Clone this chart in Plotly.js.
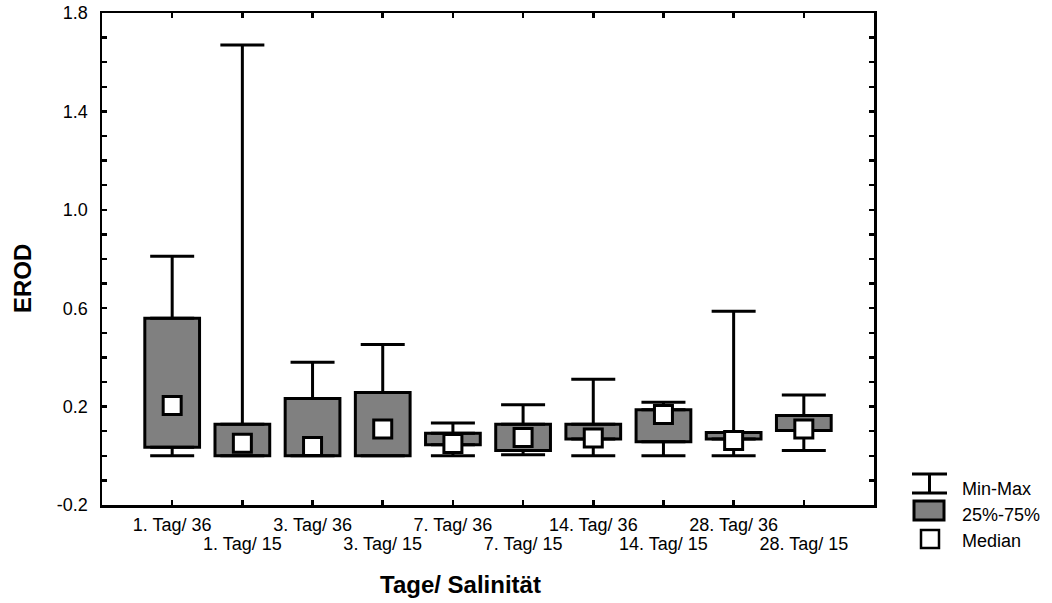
<!DOCTYPE html>
<html>
<head>
<meta charset="utf-8">
<script src="https://cdn.plot.ly/plotly-3.0.1.min.js"></script>
<style>html,body{margin:0;padding:0;background:#fff}#chart{width:1052px;height:603px}</style>
</head>
<body>
<div id="chart"></div>
<script>
// ---- Data ----
const categories = ["1. Tag/ 36","1. Tag/ 15","3. Tag/ 36","3. Tag/ 15","7. Tag/ 36","7. Tag/ 15","14. Tag/ 36","14. Tag/ 15","28. Tag/ 36","28. Tag/ 15"];
const minValues    = [0.000, 0.000, 0.000, 0.000, 0.000, 0.004, 0.000, 0.000, 0.000, 0.022];
const q1Values     = [0.035, 0.000, 0.000, 0.000, 0.045, 0.022, 0.068, 0.057, 0.068, 0.103];
const medianValues = [0.204, 0.051, 0.038, 0.109, 0.050, 0.074, 0.072, 0.168, 0.062, 0.109];
const q3Values     = [0.559, 0.128, 0.233, 0.257, 0.092, 0.128, 0.128, 0.187, 0.095, 0.164];
const maxValues    = [0.811, 1.670, 0.380, 0.452, 0.133, 0.208, 0.311, 0.218, 0.588, 0.247];
const yTickLabels  = ["-0.2","0.2","0.6","1.0","1.4","1.8"];
const legendLabels = ["Min-Max","25%-75%","Median"];
const xTitle = "Tage/ Salinität";
const yTitle = "EROD";

// ---- Build ----
const FONT = "Liberation Sans, Arial, Helvetica, sans-serif";
const TICK_SIZE = 18;
const idx = categories.map((_, i) => i);
const oddIdx = idx.filter(i => i % 2 === 1);
// row 1 (bottom axis): even categories; row 2 (overlay axis): odd categories
const row1Text = idx.map(i => (i % 2 === 0 ? categories[i] : ""));
const row2Text = oddIdx.map(i => categories[i]);

// y ticks every 0.1, labels every 0.4
const yTickVals = [], yTickText = [];
for (let k = 0; k <= 20; k++) {
  const v = Math.round((-0.2 + k * 0.1) * 10) / 10;
  yTickVals.push(v);
  yTickText.push(k % 4 === 0 ? yTickLabels[k / 4] : "");
}

const boxTrace = {
  type: "bar", x: idx,
  y: q3Values.map((q, i) => q - q1Values[i]),
  base: q1Values,
  width: 0.78,
  marker: {color: "#808080", line: {color: "#000", width: 3}},
  hoverinfo: "skip", showlegend: false
};
const upperWhisker = {
  type: "scatter", mode: "markers", x: idx, y: q3Values,
  marker: {size: 1, color: "rgba(0,0,0,0)"},
  error_y: {type: "data", symmetric: false,
    array: maxValues.map((m, i) => m - q3Values[i]),
    arrayminus: idx.map(() => 0),
    color: "#000", thickness: 3, width: 22},
  hoverinfo: "skip", showlegend: false
};
const lowerWhisker = {
  type: "scatter", mode: "markers", x: idx, y: q1Values,
  marker: {size: 1, color: "rgba(0,0,0,0)"},
  error_y: {type: "data", symmetric: false,
    array: idx.map(() => 0),
    arrayminus: q1Values.map((q, i) => q - minValues[i]),
    color: "#000", thickness: 3, width: 22},
  hoverinfo: "skip", showlegend: false
};
const medianTrace = {
  type: "scatter", mode: "markers", x: idx, y: medianValues,
  marker: {symbol: "square", size: 18, color: "#fff", line: {color: "#000", width: 3}},
  hoverinfo: "skip", showlegend: false
};
// invisible trace so the second label row axis is drawn
const row2Anchor = {
  type: "scatter", mode: "markers", x: oddIdx, y: oddIdx.map(() => null),
  xaxis: "x2", yaxis: "y", hoverinfo: "skip", showlegend: false
};

// pixel -> paper helpers for legend placement
const L = 102, R = 874, T = 13, B = 505;
const px = v => (v - L) / (R - L);
const py = v => (B - v) / (B - T);

const shapes = [
  {type: "line", xref: "paper", yref: "paper", x0: px(912), x1: px(947), y0: py(474), y1: py(474), line: {color: "#000", width: 3}},
  {type: "line", xref: "paper", yref: "paper", x0: px(929.5), x1: px(929.5), y0: py(474), y1: py(493), line: {color: "#000", width: 3}},
  {type: "line", xref: "paper", yref: "paper", x0: px(912), x1: px(947), y0: py(493), y1: py(493), line: {color: "#000", width: 3}},
  {type: "rect", xref: "paper", yref: "paper", x0: px(914), x1: px(944), y0: py(501), y1: py(520), fillcolor: "#808080", line: {color: "#000", width: 3}},
  {type: "rect", xref: "paper", yref: "paper", x0: px(921), x1: px(939), y0: py(530), y1: py(548), fillcolor: "#fff", line: {color: "#000", width: 2.5}}
];

const legFont = {family: FONT, size: 18, color: "#000"};
const annotations = [
  {xref: "paper", yref: "paper", x: px(960), y: py(489), xanchor: "left", yanchor: "middle", text: legendLabels[0], showarrow: false, font: legFont},
  {xref: "paper", yref: "paper", x: px(960), y: py(515), xanchor: "left", yanchor: "middle", text: legendLabels[1], showarrow: false, font: legFont},
  {xref: "paper", yref: "paper", x: px(960), y: py(541), xanchor: "left", yanchor: "middle", text: legendLabels[2], showarrow: false, font: legFont},
  {xref: "paper", yref: "paper", x: px(460), y: py(584), xanchor: "center", yanchor: "middle", text: "<b>" + xTitle + "</b>", showarrow: false, font: {family: FONT, size: 24, color: "#000"}},
  {xref: "paper", yref: "paper", x: px(22), y: py(279), xanchor: "center", yanchor: "middle", text: "<b>" + yTitle + "</b>", textangle: -90, showarrow: false, font: {family: FONT, size: 24, color: "#000"}}
];

const layout = {
  width: 1052, height: 603,
  margin: {l: L, r: 1052 - R, t: T, b: 603 - B},
  paper_bgcolor: "#fff", plot_bgcolor: "#fff",
  showlegend: false,
  font: {family: FONT, color: "#000"},
  xaxis: {
    range: [-1, categories.length], tickmode: "array", tickvals: idx, ticktext: row1Text,
    ticks: "inside", ticklen: 5, tickwidth: 2.5, tickcolor: "#000",
    showline: true, linecolor: "#000", linewidth: 2.5, mirror: "ticks",
    showgrid: false, zeroline: false, tickangle: 0,
    tickfont: {family: FONT, size: TICK_SIZE, color: "#000"}, ticklabelstandoff: 2
  },
  xaxis2: {
    overlaying: "x", anchor: "y", side: "bottom",
    range: [-1, categories.length], tickmode: "array", tickvals: oddIdx, ticktext: row2Text,
    ticks: "", showline: false, showgrid: false, zeroline: false, tickangle: 0,
    tickfont: {family: FONT, size: TICK_SIZE, color: "#000"}, ticklabelstandoff: 26
  },
  yaxis: {
    range: [-0.2, 1.8], tickmode: "array", tickvals: yTickVals, ticktext: yTickText,
    ticks: "inside", ticklen: 5, tickwidth: 2.5, tickcolor: "#000",
    showline: true, linecolor: "#000", linewidth: 2.5, mirror: "ticks",
    showgrid: false, zeroline: false,
    tickfont: {family: FONT, size: TICK_SIZE, color: "#000"}, ticklabelstandoff: 8
  },
  shapes: shapes,
  annotations: annotations
};

Plotly.newPlot("chart", [boxTrace, upperWhisker, lowerWhisker, medianTrace, row2Anchor], layout, {staticPlot: true, displayModeBar: false});
</script>
</body>
</html>
